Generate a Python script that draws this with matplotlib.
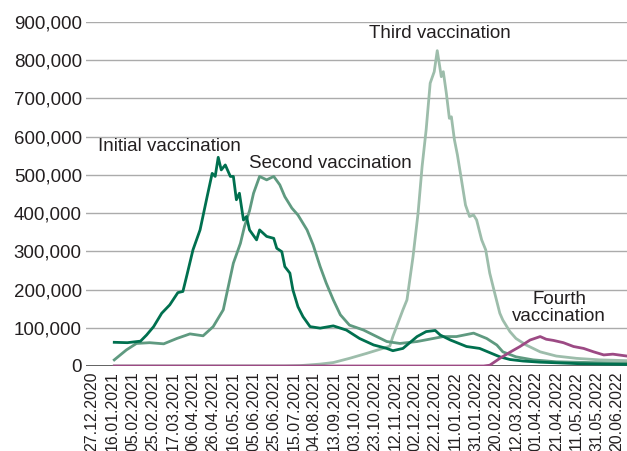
import numpy as np
import matplotlib
matplotlib.use("Agg")
import matplotlib.pyplot as plt
from matplotlib.ticker import FuncFormatter

plt.rcParams['font.family'] = ['Liberation Sans', 'DejaVu Sans']

# Category axis: one position per daily data row; every 20th row is labelled
x_labels = ['27.12.2020', '16.01.2021', '05.02.2021', '25.02.2021', '17.03.2021', '06.04.2021',
            '26.04.2021', '16.05.2021', '05.06.2021', '25.06.2021', '15.07.2021', '04.08.2021',
            '13.09.2021', '03.10.2021', '23.10.2021', '12.11.2021', '02.12.2021', '22.12.2021',
            '11.01.2022', '31.01.2022', '20.02.2022', '12.03.2022', '01.04.2022', '21.04.2022',
            '11.05.2022', '31.05.2022', '20.06.2022']

# Row positions and values (thousands of vaccinations, 7-day average)
initial_idx = [22, 35, 48, 54, 61, 69, 77, 85, 90, 94, 100, 107, 114, 119, 122, 125, 128, 132,
               137, 140, 143, 146, 150, 153, 156, 163, 166, 173, 180, 183, 188, 191, 196, 199,
               204, 209, 216, 226, 239, 252, 265, 279, 292, 298, 308, 322, 331, 340, 345, 355,
               371, 384, 394, 404, 414, 427, 444, 483, 530]
initial_vals = [62, 61, 65, 81, 103, 138, 160, 192, 195, 238, 304, 356, 443, 504, 496, 546, 513, 526,
                496, 496, 435, 452, 382, 391, 356, 330, 356, 339, 334, 308, 299, 260, 243, 199,
                155, 129, 103, 99, 105, 94, 72, 55, 46, 40, 46, 77, 90, 93, 81, 68,
                51, 46, 35, 24, 17, 13, 10, 6, 4]

second_idx = [22, 34, 44, 57, 71, 84, 97, 110, 120, 130, 135, 140, 147, 151, 156, 160, 166, 173,
              180, 186, 191, 198, 204, 213, 219, 226, 232, 239, 246, 255, 269, 282, 292, 305,
              322, 338, 348, 361, 378, 391, 401, 407, 420, 437, 460, 530]
second_vals = [16, 42, 59, 61, 58, 72, 84, 79, 103, 147, 208, 269, 321, 365, 406, 452, 496, 487,
               496, 474, 443, 413, 395, 356, 317, 260, 217, 173, 134, 107, 94, 77, 64, 59,
               64, 72, 77, 77, 86, 72, 55, 37, 24, 16, 11, 7]

third_idx = [22, 191, 206, 226, 239, 255, 272, 288, 295, 298, 303, 308, 312, 318, 323, 327, 331,
             335, 339, 342, 346, 348, 351, 354, 356, 359, 362, 366, 370, 374, 378, 381, 386,
             390, 394, 399, 404, 407, 414, 420, 430, 444, 460, 480, 503, 530]
third_vals = [0, 0, 1, 5, 9, 20, 33, 46, 52, 77, 112, 147, 173, 286, 400, 522, 618,
              740, 770, 825, 757, 770, 714, 648, 652, 592, 552, 487, 421, 391, 395, 382, 330,
              304, 243, 190, 138, 120, 90, 72, 55, 37, 26, 20, 16, 14]

fourth_idx = [22, 388, 394, 404, 414, 424, 434, 444, 450, 457, 467, 477, 487, 497, 507, 516, 530]
fourth_vals = [0, 0, 2, 20, 36, 51, 68, 77, 70, 67, 61, 51, 46, 37, 29, 31, 26]

series_names = ['Initial vaccination', 'Second vaccination', 'Third vaccination', 'Fourth\nvaccination']
series_colors = ['#00704f', '#5f9a80', '#9dbdab', '#9c4a84']

label_idx = [77, 236, 345, 463]
label_vals = [573, 531, 869, 152]

y_ticks = [0, 100000, 200000, 300000, 400000, 500000, 600000, 700000, 800000, 900000]

fig = plt.figure(figsize=(6.27, 4.51), dpi=100)
ax = fig.add_axes([86 / 627, 1 - 366 / 451, 1 - 86 / 627, (366 - 22) / 451])

for yt in y_ticks[1:]:
    ax.axhline(yt, color='#ababab', lw=1.0, zorder=1)
ax.axhline(0, color='#555555', lw=1.3, zorder=1)

data = [(initial_idx, initial_vals), (second_idx, second_vals),
        (third_idx, third_vals), (fourth_idx, fourth_vals)]
for i in [2, 1, 0, 3]:
    xi, v = data[i]
    ax.plot(xi, np.array(v) * 1000, color=series_colors[i], lw=2.0,
            solid_joinstyle='round', zorder=4 if i == 3 else 3)

for i, name in enumerate(series_names):
    ax.text(label_idx[i], label_vals[i] * 1000, name, ha='center', va='center',
            fontsize=13.5, color='#231f20', linespacing=1.0, zorder=6)

ax.set_xticks(np.arange(len(x_labels)) * 20)
ax.set_xticklabels(x_labels, rotation=90)
ax.tick_params(axis='x', labelsize=11.5, length=0, pad=4, colors='#231f20')
ax.set_xlim(-6, 530)

ax.set_yticks(y_ticks)
ax.yaxis.set_major_formatter(FuncFormatter(lambda v, p: f'{int(v):,}'))
ax.tick_params(axis='y', labelsize=13.5, length=0, pad=3, colors='#231f20')
ax.set_ylim(0, 900000)

for s in ax.spines.values():
    s.set_visible(False)

fig.savefig('out.png', dpi=100)
